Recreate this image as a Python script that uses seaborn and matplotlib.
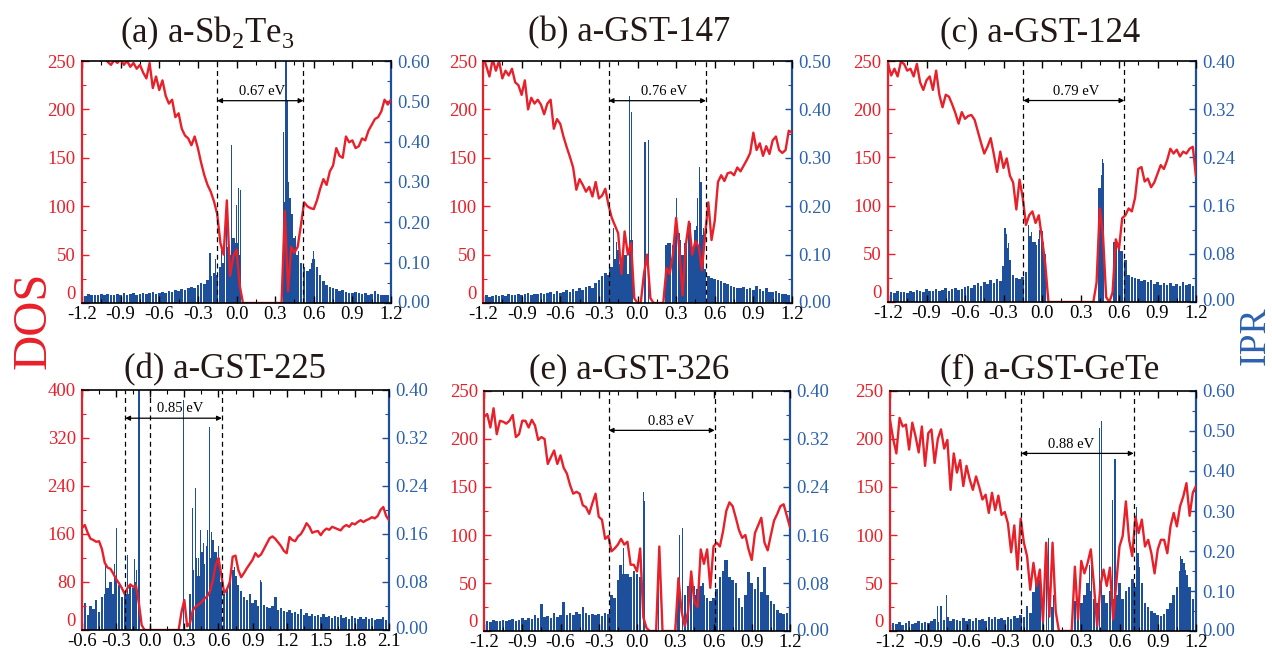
import numpy as np
import matplotlib
matplotlib.use("Agg")
import matplotlib.pyplot as plt
import seaborn as sns
from matplotlib.ticker import MultipleLocator, FormatStrFormatter

# ---------------- data ----------------
titles = ["(a) a-Sb$_2$Te$_3$", "(b) a-GST-147", "(c) a-GST-124",
          "(d) a-GST-225", "(e) a-GST-326", "(f) a-GST-GeTe"]
gap_labels = ["0.67 eV", "0.76 eV", "0.79 eV", "0.85 eV", "0.83 eV", "0.88 eV"]
gap_edges = [[-0.15, 0.52], [-0.224, 0.532], [-0.146, 0.642],
             [-0.22, 0.63], [-0.222, 0.609], [-0.17, 0.711]]
extra_dash = [[], [], [], [0.0], [], []]
arrow_dos = [209, 209, 209, 353, 209, 185]
label_x = [0.20, 0.21, 0.27, 0.26, 0.265, 0.22]
e_range = [(-1.2, 1.2)] * 3 + [(-0.6, 2.1)] + [(-1.2, 1.2)] * 2

dos_a = [262, 258, 265, 256, 260, 252, 250, 254, 249, 246,
         251, 248, 252, 246, 250, 244, 248, 242, 246, 238,
         232, 248, 222, 234, 220, 230, 214, 206, 210, 192,
         196, 180, 173, 170, 163, 172, 160, 145, 132, 122,
         115, 105, 92, 62, 50, 106, 28, 48, 55, 18,
         0, 0, 0, 0, 0, 0, 0, 0, 0, 0, 0, 0, 0,
         95, 12, 58, 52, 58, 80, 104, 100, 98, 97,
         106, 118, 128, 122, 136, 142, 160, 152, 150, 172,
         166, 168, 160, 162, 170, 168, 178, 184, 190, 192,
         198, 210, 205, 210]
dos_b = [255, 245, 234, 252, 240, 250, 232, 240, 235, 242,
         228, 225, 215, 230, 200, 212, 206, 210, 205, 195,
         206, 210, 180, 190, 185, 172, 161, 151, 140, 117,
         128, 122, 115, 120, 110, 125, 108, 111, 118, 101,
         88, 80, 72, 30, 74, 50, 62, 5, 0, 0,
         30, 50, 5, 0, 0, 0, 0, 36, 30, 50,
         88, 55, 8, 60, 84, 50, 64, 58, 34, 70,
         104, 65, 85, 125, 132, 126, 134, 135, 132, 140,
         136, 142, 148, 155, 176, 158, 165, 152, 162, 154,
         168, 172, 158, 155, 158, 178, 176]
dos_c = [247, 235, 242, 234, 249, 247, 240, 242, 234, 247,
         228, 220, 230, 234, 220, 240, 215, 202, 215, 213,
         205, 196, 185, 197, 190, 193, 194, 189, 177, 165,
         154, 161, 170, 153, 135, 156, 139, 149, 131, 124,
         96, 127, 108, 80, 90, 94, 82, 90, 66, 40,
         0, 0, 0, 0, 0, 0, 0, 0, 0, 0, 0, 0, 0, 0, 0,
         20, 97, 70, 5, 0, 10, 65, 55, 87, 90,
         97, 94, 108, 138, 140, 125, 128, 119, 124, 133,
         142, 138, 147, 159, 154, 158, 151, 156, 154, 159,
         161, 130]
dos_d = [170, 175, 162, 152, 150, 147, 148, 135, 112, 104,
         102, 94, 85, 78, 70, 60, 70, 76, 72, 74,
         45, 8, 0, 0, 0,
         0, 0, 0, 0, 0, 0, 0, 0, 0, 0,
         30, 50, 6, 12, 33, 39, 42, 46, 52, 56,
         64, 82, 108, 120, 92, 62, 68, 80, 122, 124,
         100, 88, 95, 103, 110, 117, 128, 122, 126, 135,
         144, 153, 156, 152, 146, 140, 132, 128, 155, 150,
         148, 156, 160, 168, 178, 172, 162, 164, 165, 158,
         165, 169, 167, 172, 170, 168, 166, 172, 175, 172,
         178, 176, 180, 183, 180, 183, 185, 188, 186, 190,
         200, 205, 190, 183]
dos_e = [223, 226, 212, 232, 205, 219, 218, 216, 219, 225,
         202, 205, 219, 219, 212, 220, 214, 199, 202, 200,
         174, 181, 188, 174, 183, 170, 164, 152, 143, 145,
         143, 131, 129, 122, 133, 143, 119, 116, 96, 99,
         83, 86, 90, 96, 90, 93, 69, 69, 62, 86,
         14, 3, 0, 0, 0, 88, 0, 0, 0, 0,
         0, 55, 20, 5, 20, 62, 30, 25, 85, 70,
         85, 45, 88, 92, 88, 104, 125, 134, 130, 118,
         105, 97, 100, 85, 74, 102, 110, 118, 92, 84,
         100, 115, 122, 130, 132, 120, 108]
dos_f = [220, 200, 185, 222, 213, 215, 189, 217, 203, 186,
         213, 172, 206, 210, 175, 200, 210, 190, 199, 147,
         185, 165, 178, 151, 172, 158, 147, 161, 150, 137,
         142, 123, 144, 126, 141, 121, 124, 112, 82, 110,
         64, 117, 92, 78, 43, 71, 47, 64, 10, 92,
         15, 92, 20, 0, 0, 0, 0, 0, 67, 12,
         73, 60, 71, 85, 47, 5, 47, 64, 47, 66,
         12, 50, 88, 99, 135, 95, 78, 119, 102, 116,
         88, 95, 81, 60, 85, 95, 95, 81, 109, 123,
         109, 130, 140, 154, 120, 144, 151]

ipr_a = [0.020, 0.018, 0.022, 0.019, 0.021, 0.020, 0.023, 0.019, 0.022, 0.021,
         0.020, 0.023, 0.021, 0.024, 0.020, 0.022, 0.025, 0.021, 0.023, 0.026,
         0.022, 0.024, 0.027, 0.023, 0.026, 0.028, 0.025, 0.030, 0.027, 0.032,
         0.029, 0.034, 0.031, 0.036, 0.040, 0.037, 0.045, 0.050, 0.048, 0.058,
         0.066, 0.075, 0.070, 0.090, 0.100, 0.140, 0.120, 0.160, 0.150, 0.120,
         0, 0, 0, 0, 0, 0, 0, 0, 0, 0, 0, 0, 0,
         0.250, 0.300, 0.220, 0.160, 0.120, 0.100, 0.090, 0.080, 0.085, 0.110,
         0.090, 0.070, 0.055, 0.045, 0.040, 0.038, 0.034, 0.030, 0.032, 0.028,
         0.026, 0.025, 0.027, 0.024, 0.022, 0.025, 0.021, 0.023, 0.030, 0.022,
         0.021, 0.020, 0.019, 0.018]
ipr_b = [0.014, 0.016, 0.013, 0.015, 0.017, 0.014, 0.016, 0.015, 0.018, 0.016,
         0.017, 0.019, 0.016, 0.018, 0.020, 0.017, 0.019, 0.018, 0.021, 0.019,
         0.020, 0.022, 0.019, 0.024, 0.021, 0.023, 0.026, 0.022, 0.028, 0.025,
         0.030, 0.027, 0.033, 0.036, 0.031, 0.042, 0.048, 0.055, 0.062, 0.058,
         0.075, 0.090, 0.110, 0.080, 0.100, 0.060, 0.130, 0.000, 0.000, 0.000,
         0, 0, 0, 0, 0, 0, 0,
         0.120, 0.125, 0.110, 0.150, 0.130, 0.100, 0.120, 0.160, 0.100, 0.150, 0.120, 0.140,
         0.070, 0.055, 0.052, 0.050, 0.048, 0.045, 0.042, 0.040, 0.036, 0.034,
         0.032, 0.030, 0.033, 0.028, 0.030, 0.026, 0.035, 0.028, 0.025, 0.030,
         0.023, 0.022, 0.024, 0.021, 0.019, 0.018, 0.017, 0.016]
ipr_c = [0.014, 0.016, 0.015, 0.018, 0.016, 0.017, 0.015, 0.019, 0.017, 0.020,
         0.018, 0.016, 0.021, 0.018, 0.019, 0.022, 0.018, 0.020, 0.023, 0.019,
         0.021, 0.024, 0.020, 0.022, 0.025, 0.026, 0.023, 0.028, 0.031, 0.027,
         0.033, 0.030, 0.036, 0.032, 0.038, 0.035, 0.060, 0.090, 0.070, 0.045,
         0.040, 0.038, 0.042, 0.050, 0.110, 0.100, 0.095, 0.105, 0.110, 0.080,
         0, 0, 0, 0, 0, 0, 0, 0, 0, 0, 0, 0, 0, 0, 0,
         0.000, 0.190, 0.220, 0.000,
         0.000, 0.000, 0.095, 0.090, 0.085, 0.070, 0.045, 0.042, 0.040, 0.038,
         0.035, 0.037, 0.033, 0.036, 0.030, 0.034, 0.029, 0.032, 0.028, 0.031,
         0.027, 0.030, 0.026, 0.033, 0.028, 0.030, 0.027, 0.025]
ipr_d = [0.030, 0.045, 0.025, 0.040, 0.035, 0.050, 0.030, 0.055, 0.060,
         0.070, 0.080, 0.060, 0.090, 0.075, 0.055, 0.065, 0.060, 0.075, 0.070, 0.080,
         0, 0, 0, 0, 0, 0, 0, 0, 0, 0, 0, 0, 0, 0, 0,
         0.000, 0.000, 0.000, 0.060, 0.100, 0.120, 0.090, 0.130, 0.110, 0.140,
         0.120, 0.150, 0.130, 0.120, 0.080,
         0.060, 0.070, 0.085, 0.100, 0.090, 0.075, 0.065, 0.055, 0.050, 0.060,
         0.045, 0.050, 0.040, 0.080, 0.042, 0.038, 0.036, 0.040, 0.055, 0.034,
         0.036, 0.032, 0.030, 0.034, 0.028, 0.030, 0.026, 0.035, 0.025, 0.028,
         0.024, 0.027, 0.023, 0.025, 0.022, 0.026, 0.021, 0.024, 0.020, 0.023,
         0.021, 0.025, 0.020, 0.022, 0.019, 0.023, 0.020, 0.018, 0.022, 0.019,
         0.021, 0.018, 0.020, 0.017, 0.019, 0.018, 0.022, 0.017, 0.018]
ipr_e = [0.016, 0.017, 0.015, 0.018, 0.016, 0.017, 0.019, 0.016, 0.018, 0.020,
         0.017, 0.019, 0.021, 0.018, 0.022, 0.020, 0.026, 0.021, 0.045, 0.023,
         0.025, 0.022, 0.030, 0.024, 0.027, 0.048, 0.026, 0.030, 0.027, 0.032,
         0.028, 0.040, 0.030, 0.026, 0.029, 0.027, 0.028, 0.025, 0.030, 0.028,
         0.060, 0.055, 0.085, 0.110, 0.095, 0.095, 0.090, 0.100, 0.095, 0.090,
         0, 0, 0, 0, 0, 0, 0, 0, 0, 0, 0,
         0.080, 0.000, 0.060, 0.075, 0.080, 0.060, 0.070, 0.075, 0.060, 0.055, 0.050, 0.055,
         0.070, 0.090, 0.100, 0.118, 0.090, 0.085, 0.080, 0.055, 0.040, 0.060,
         0.098, 0.080, 0.070, 0.090, 0.065, 0.107, 0.060, 0.050, 0.045, 0.035,
         0.030, 0.028, 0.030, 0.026]
ipr_f = [0.015, 0.020, 0.018, 0.022, 0.016, 0.020, 0.024, 0.018, 0.021, 0.025,
         0.019, 0.023, 0.020, 0.026, 0.030, 0.022, 0.062, 0.028, 0.035, 0.025,
         0.030, 0.027, 0.024, 0.032, 0.026, 0.030, 0.025, 0.033, 0.027, 0.031,
         0.026, 0.034, 0.029, 0.035, 0.030, 0.032, 0.028, 0.035, 0.030, 0.038,
         0.033, 0.040, 0.036, 0.062, 0.045, 0.098, 0.120, 0.127, 0.080, 0.000,
         0.000, 0.060, 0.000, 0, 0, 0, 0, 0,
         0.075, 0.050, 0.070, 0.090, 0.120, 0.100, 0.080, 0.070, 0.000, 0.090,
         0.070, 0.100, 0.080, 0.090, 0.120, 0.080, 0.100, 0.110, 0.130, 0.110,
         0.160, 0.120, 0.070, 0.060, 0.050, 0.045, 0.040, 0.038, 0.042, 0.055,
         0.070, 0.090, 0.110, 0.150, 0.170, 0.140, 0.110, 0.080, 0.060]

spike_e_a = [-0.206, -0.16, -0.115, -0.094, -0.08, -0.06, -0.037, -0.016, 0.0, 0.017, 0.03,
             0.364, 0.376, 0.384, 0.392, 0.404, 0.416, 0.429, 0.455, 0.48, 0.52, 0.585, 0.6]
spike_v_a = [0.124, 0.11, 0.131, 0.186, 0.2, 0.15, 0.392, 0.12, 0.243, 0.285, 0.28,
             0.425, 0.2, 0.62, 0.5, 0.2, 0.26, 0.21, 0.165, 0.13, 0.09, 0.1, 0.13]
spike_e_b = [-0.213, -0.188, -0.162, -0.142, -0.11, -0.084, -0.061, -0.045, -0.038,
             0.058, 0.084, 0.231, 0.252, 0.273, 0.291, 0.304, 0.322, 0.343, 0.369,
             0.408, 0.434, 0.455, 0.467, 0.48, 0.493, 0.51]
spike_v_b = [0.072, 0.155, 0.127, 0.08, 0.12, 0.10, 0.428, 0.395, 0.13,
             0.333, 0.337, 0.125, 0.125, 0.12, 0.155, 0.216, 0.145, 0.09, 0.125,
             0.165, 0.11, 0.16, 0.216, 0.282, 0.25, 0.155]
spike_e_c = [-0.295, -0.288, -0.275, -0.262, -0.107, -0.093, -0.08, -0.054, -0.02, 0.0, 0.01,
             0.445, 0.452, 0.462, 0.473, 0.479, 0.561, 0.57, 0.598, 0.61]
spike_v_c = [0.105, 0.122, 0.113, 0.098, 0.128, 0.11, 0.116, 0.1, 0.12, 0.118, 0.1,
             0.16, 0.19, 0.21, 0.237, 0.23, 0.1, 0.098, 0.093, 0.085]
spike_e_d = [-0.39, -0.35, -0.316, -0.298, -0.2, -0.137, -0.117, -0.104, -0.098,
             0.294, 0.376, 0.396, 0.425, 0.44, 0.466, 0.508, 0.52, 0.535, 0.558,
             0.573, 0.6, 0.73, 0.745, 0.966, 1.113]
spike_v_d = [0.11, 0.08, 0.11, 0.17, 0.125, 0.118, 0.10, 0.42, 0.42,
             0.383, 0.203, 0.237, 0.12, 0.167, 0.145, 0.167, 0.339, 0.163, 0.13,
             0.115, 0.14, 0.094, 0.105, 0.083, 0.055]
spike_e_e = [-0.133, -0.118, -0.107, -0.068, -0.029, 0.023, 0.049, 0.062, 0.166,
             0.336, 0.357, 0.427, 0.45, 0.49, 0.518, 0.688]
spike_v_e = [0.11, 0.095, 0.138, 0.09, 0.1, 0.085, 0.232, 0.216, 0.095,
             0.16, 0.172, 0.08, 0.075, 0.075, 0.08, 0.118]
spike_e_f = [-0.83, -0.755, -0.127, -0.079, -0.06, -0.034, 0.028, 0.041, 0.08,
             0.367, 0.383, 0.445, 0.46, 0.544, 0.565, 0.654, 0.733, 0.745,
             1.077, 1.09, 1.12]
spike_v_f = [0.062, 0.09, 0.062, 0.098, 0.12, 0.127, 0.219, 0.232, 0.09,
             0.165, 0.17, 0.507, 0.525, 0.327, 0.43, 0.1, 0.31, 0.195,
             0.187, 0.18, 0.153]

dos_list = [dos_a, dos_b, dos_c, dos_d, dos_e, dos_f]
ipr_list = [ipr_a, ipr_b, ipr_c, ipr_d, ipr_e, ipr_f]
spike_e = [spike_e_a, spike_e_b, spike_e_c, spike_e_d, spike_e_e, spike_e_f]
spike_v = [spike_v_a, spike_v_b, spike_v_c, spike_v_d, spike_v_e, spike_v_f]
dos_max = [250, 250, 250, 400, 250, 250]
dos_step = [50, 50, 50, 80, 50, 50]
ipr_max = [0.6, 0.5, 0.4, 0.4, 0.4, 0.6]
ipr_step = [0.1, 0.1, 0.08, 0.08, 0.08, 0.1]

# ---------------- style ----------------
sns.set_theme(style="ticks")
plt.rcParams['font.family'] = ['Liberation Serif', 'DejaVu Serif']
plt.rcParams['mathtext.fontset'] = 'custom'
plt.rcParams['mathtext.rm'] = 'Liberation Serif'
plt.rcParams['axes.unicode_minus'] = False

RED = '#e8202a'
BLUE = '#1d4f9b'
BLUE_T = '#2c62ae'
TITLE_C = '#231815'

W, H = 1272, 650
rects_px = [(82, 391, 61, 303), (483, 792, 61, 303), (888, 1196, 61, 302),
            (82, 389, 390, 630), (484, 790, 391, 631), (890, 1196, 391, 631)]
title_pos = [(207, 33), (629, 33), (1040, 33), (225, 370), (629, 370), (1050, 370)]

fig = plt.figure(figsize=(W / 100, H / 100), dpi=100)

for i in range(6):
    l, r, t, b = rects_px[i]
    ax = fig.add_axes([l / W, 1 - b / H, (r - l) / W, (b - t) / H])
    axr = ax.twinx()
    e0, e1 = e_range[i]
    E = np.round(np.arange(e0, e1 + 1e-6, 0.025), 3)

    axr.bar(E, ipr_list[i], width=0.02, color=BLUE, linewidth=0)
    axr.bar(spike_e[i], spike_v[i], width=0.009, color=BLUE, linewidth=0)
    sns.lineplot(x=E, y=dos_list[i], ax=ax, color=RED, linewidth=1.7)

    ax.set_zorder(axr.get_zorder() + 1)
    ax.patch.set_visible(False)

    ax.set_xlim(e0, e1)
    ax.set_ylim(0, dos_max[i])
    axr.set_ylim(0, ipr_max[i])
    ax.set_xlabel('')
    ax.set_ylabel('')

    ax.xaxis.set_major_locator(MultipleLocator(0.3))
    ax.xaxis.set_minor_locator(MultipleLocator(0.15))
    ax.xaxis.set_major_formatter(FormatStrFormatter('%.1f'))
    ax.yaxis.set_major_locator(MultipleLocator(dos_step[i]))
    ax.yaxis.set_minor_locator(MultipleLocator(dos_step[i] / 2))
    axr.yaxis.set_major_locator(MultipleLocator(ipr_step[i]))
    axr.yaxis.set_minor_locator(MultipleLocator(ipr_step[i] / 2))
    axr.yaxis.set_major_formatter(FormatStrFormatter('%.2f'))

    ax.tick_params(axis='x', which='both', direction='in', top=True, bottom=True,
                   colors='black', labelsize=13.5, pad=2)
    ax.tick_params(axis='x', which='major', length=5, width=1)
    ax.tick_params(axis='x', which='minor', length=3, width=0.8)
    ax.tick_params(axis='y', which='both', direction='in', left=True, right=False,
                   colors=RED, labelcolor=RED, labelsize=13.5, pad=4.5)
    ax.tick_params(axis='y', which='major', length=5, width=1)
    ax.tick_params(axis='y', which='minor', length=3, width=0.8)
    axr.tick_params(axis='y', which='both', direction='in', right=True, left=False,
                    colors=BLUE, labelcolor=BLUE_T, labelsize=13.5, pad=4.5)
    axr.tick_params(axis='y', which='major', length=5, width=1)
    axr.tick_params(axis='y', which='minor', length=3, width=0.8)

    for s in ['top', 'bottom']:
        ax.spines[s].set_color('black')
        ax.spines[s].set_linewidth(1.2)
    ax.spines['left'].set_color(RED)
    ax.spines['left'].set_linewidth(1.6)
    ax.spines['right'].set_visible(False)
    for s in ['top', 'bottom', 'left']:
        axr.spines[s].set_visible(False)
    axr.spines['right'].set_color(BLUE)
    axr.spines['right'].set_linewidth(1.6)

    # gap markers
    for xv in gap_edges[i] + extra_dash[i]:
        ax.axvline(xv, color='black', linestyle=(0, (4, 3)), linewidth=0.9, zorder=5)
    xa, xb = gap_edges[i]
    ax.annotate('', xy=(xb, arrow_dos[i]), xytext=(xa, arrow_dos[i]),
                arrowprops=dict(arrowstyle='<|-|>', color='black', lw=0.9,
                                mutation_scale=7, shrinkA=0, shrinkB=0), zorder=6)
    ax.annotate(gap_labels[i], xy=(label_x[i], arrow_dos[i]), xytext=(0, 2),
                textcoords='offset points', ha='center', va='bottom',
                fontsize=10.5, color='black', zorder=6)

    tx, ty = title_pos[i]
    fig.text(tx / W, 1 - ty / H, titles[i], ha='center', va='center',
             fontsize=25, color=TITLE_C)

    # the lowest DOS label sits just above the corner, as in the reference
    fig.canvas.draw()
    for tk in ax.yaxis.get_major_ticks():
        if abs(tk.get_loc()) < 1e-9:
            tk.label1.set_verticalalignment('bottom')
    for tk in axr.yaxis.get_major_ticks():
        if abs(tk.get_loc()) < 1e-9:
            tk.label2.set_verticalalignment('center')

fig.text(34 / W, 1 - 320 / H, 'DOS', rotation=90, ha='center', va='center',
         fontsize=35, color=RED)
fig.text(1255 / W, 1 - 336 / H, 'IPR', rotation=90, ha='center', va='center',
         fontsize=27, color=BLUE_T)

fig.savefig('out.png', dpi=100)
